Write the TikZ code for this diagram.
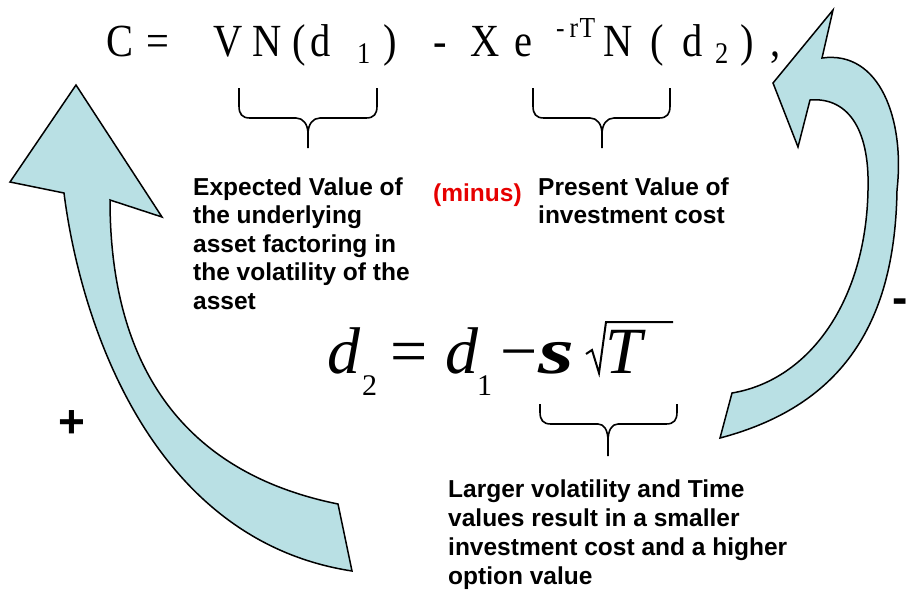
\documentclass[tikz,border=0pt]{standalone}
\usepackage{fontspec}
\setmainfont{Liberation Serif}
\newfontfamily\arialfont{Liberation Sans}
\newfontfamily\condserif{Liberation Serif}[FakeStretch=0.88]
\definecolor{arrowfill}{RGB}{185,224,228}
\definecolor{minusred}{RGB}{230,0,0}
\begin{document}
\begin{tikzpicture}[x=1pt,y=-1pt,
  txt/.style={inner sep=0pt, anchor=base west, font=\arialfont\bfseries\fontsize{24.5}{29}\selectfont},
  frm/.style={inner sep=0pt, anchor=base west, font=\condserif\fontsize{46}{50}\selectfont},
  frmsub/.style={inner sep=0pt, anchor=base west, font=\condserif\fontsize{30}{32}\selectfont},
  frmsup/.style={inner sep=0pt, anchor=base west, font=\condserif\fontsize{29}{31}\selectfont},
  mth/.style={inner sep=0pt, anchor=base west, font=\fontsize{66}{70}\selectfont\itshape},
  mthup/.style={inner sep=0pt, anchor=base west, font=\fontsize{66}{70}\selectfont},
  mthsub/.style={inner sep=0pt, anchor=base west, font=\fontsize{30}{34}\selectfont},
  brace/.style={draw, line width=1.6pt, line join=round},
  bigarrow/.style={draw, fill=arrowfill, line width=1.5pt, line join=miter},
  sign/.style={inner sep=0pt, font=\arialfont\bfseries\fontsize{46}{50}\selectfont}]
\useasboundingbox (0,0) rectangle (909,592);

% curved arrows
\draw[bigarrow] (76,85) -- (162,217) -- (110,200)
  .. controls (110,350) and (170,470) .. (338,504) -- (352,571)
  .. controls (150,540) and (80,320) .. (64,193) -- (10,182) -- cycle;
\draw[bigarrow] (833,10) -- (822,58)
  .. controls (880,50) and (905,120) .. (897,190)
  .. controls (895,320) and (845,405) .. (720,438) -- (732,393)
  .. controls (810,380) and (866,300) .. (868,190)
  .. controls (870,125) and (845,97) .. (810,100) -- (798,147) -- (773,83) -- cycle;

% top formula
\node[frm] (C) at (106,56) {C};
\node[frm] (eq) at (146,56) {=};
\node[frm] (V) at (213,56) {V};
\node[frm] (N1) at (252,56) {N};
\node[frm] (lp1) at (292,56) {(};
\node[frm] (dA) at (310,56) {d};
\node[frmsub] (sA) at (357,63) {1};
\node[frm] (rp1) at (383,56) {)};
\node[frm] (mn) at (433,56) {-};
\node[frm] (X) at (470,56) {X};
\node[frm] (e) at (514,56) {e};
\node[frmsup] (ex) at (556,37) {-\kern5pt r\kern1.5pt T};
\node[frm] (N2) at (603,56) {N};
\node[frm] (lp2) at (650,56) {(};
\node[frm] (dB) at (682,56) {d};
\node[frmsub] (sB) at (715,63) {2};
\node[frm] (rp2) at (740,56) {)};
\node[frm] (cm) at (770,56) {,};

% braces under the formula
\draw[brace] (239,88) -- (239,106) .. controls (239,114) and (242,118) .. (250,118) -- (296,118)
  .. controls (303,118) and (308,124) .. (308,134) -- (308,148);
\draw[brace] (377,88) -- (377,106) .. controls (377,114) and (374,118) .. (366,118) -- (320,118)
  .. controls (313,118) and (308,124) .. (308,134);
\draw[brace] (533,88) -- (533,106) .. controls (533,114) and (536,118) .. (544,118) -- (590,118)
  .. controls (597,118) and (602,124) .. (602,134) -- (602,148);
\draw[brace] (670,88) -- (670,106) .. controls (670,114) and (667,118) .. (659,118) -- (614,118)
  .. controls (607,118) and (602,124) .. (602,134);

% explanatory texts
\node[txt] (ev1) at (193,195) {Expected Value of};
\node[txt] (ev2) at (193,223.6) {the underlying};
\node[txt] (ev3) at (193,252.2) {asset factoring in};
\node[txt] (ev4) at (193,280.8) {the volatility of the};
\node[txt] (ev5) at (193,309.4) {asset};
\node[txt, text=minusred] (minus) at (433,201) {(minus)};
\node[txt] (pv1) at (538,195) {Present Value of};
\node[txt] (pv2) at (538,223.6) {investment cost};

% d2 formula
\node[mth] (fd) at (327,373) {d};
\node[mthsub] (f2) at (362,395) {2};
\node[mthup] (feq) at (390,373) {=};
\node[mth] (fdd) at (445,373) {d};
\node[mthsub] (f1) at (477,395) {1};
\node[mthup] (fmin) at (500,373) {−};
\node[mth, font=\fontsize{66}{70}\selectfont\bfseries\itshape] (fs) at (538,373) {\scalebox{1.4}[1]{s}};
\draw[line width=2pt, line join=miter] (586,354) -- (592,350) -- (599,373) -- (606,322) -- (673,322);
\node[mth] (fT) at (605,373) {T};

% brace under sigma sqrt T
\draw[brace] (540,404) -- (540,412) .. controls (540,420) and (543,424) .. (551,424) -- (598,424)
  .. controls (604,424) and (608,430) .. (608,441) -- (608,456);
\draw[brace] (677,404) -- (677,412) .. controls (677,420) and (674,424) .. (666,424) -- (618,424)
  .. controls (612,424) and (608,430) .. (608,441);

\node[txt] (lv1) at (448,497) {Larger volatility and Time};
\node[txt] (lv2) at (448,526) {values result in a smaller};
\node[txt] (lv3) at (448,555) {investment cost and a higher};
\node[txt] (lv4) at (448,584) {option value};

% signs
\node[sign] (plus) at (72,424) {+};
\node[sign] (neg) at (900,306) {-};
\end{tikzpicture}
\end{document}
